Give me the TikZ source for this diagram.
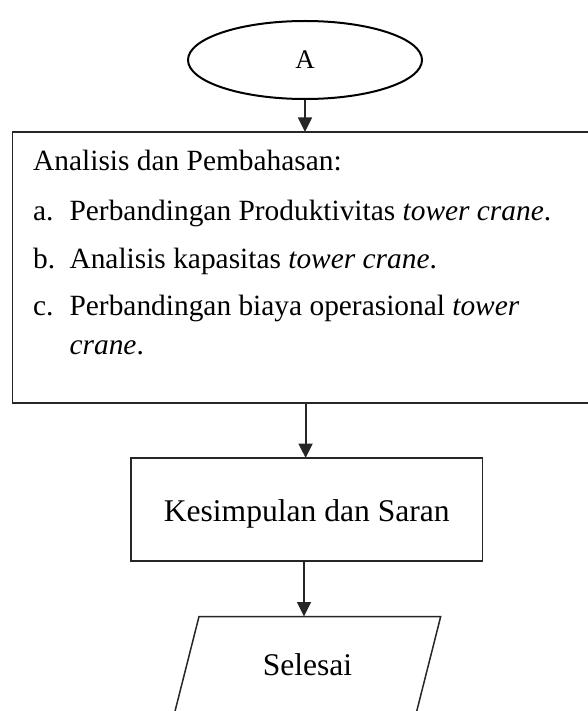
\documentclass[tikz,border=0pt]{standalone}
\usepackage{fontspec}
\setmainfont{Liberation Serif}
\usetikzlibrary{arrows.meta,shapes.geometric}
\begin{document}
\begin{tikzpicture}[x=1bp,y=-1bp,
  line/.style={draw=black!85, line width=1.5bp},
  arr/.style={black!85, line width=1.8bp, -{Triangle[length=14.5bp,width=14bp]}},
  listtext/.style={anchor=base west, inner sep=0, font=\fontsize{29.5}{35}\selectfont},
  boxtext/.style={font=\fontsize{31.7}{38}\selectfont}]
\clip (0,0) rectangle (588,711);
\useasboundingbox (0,0) rectangle (588,711);
\fill[white] (0,0) rectangle (588,711);
% start terminator
\node[ellipse, draw=black, line width=2bp, minimum width=234bp, minimum height=78bp, inner sep=0,
      font=\fontsize{27}{30}\selectfont] (A) at (305,60) {A};
% analysis box
\node[line, rectangle, minimum width=600bp, minimum height=271bp, inner sep=0, outer sep=0] (big) at (312.4,267.5) {};
\node[listtext] (l0) at (33,170.7) {Analisis dan Pembahasan:};
\node[listtext] (l1) at (33,220.7) {\makebox[36.4bp][l]{a.}Perbandingan Produktivitas \textit{tower crane}.};
\node[listtext] (l2) at (33,268.3) {\makebox[36.4bp][l]{b.}Analisis kapasitas \textit{tower crane}.};
\node[listtext] (l3) at (33,315.7) {\makebox[36.4bp][l]{c.}Perbandingan biaya operasional \textit{tower}};
\node[listtext] (l4) at (69.4,354) {\textit{crane}.};
% conclusion box
\node[line, rectangle, boxtext, minimum width=351.6bp, minimum height=103bp, inner sep=0, outer sep=0,
      text height=30bp, text depth=7bp] (kes) at (306.8,509.5) {Kesimpulan dan Saran};
% end parallelogram
\coordinate (ptl) at (199,616.5);
\coordinate (ptr) at (440.7,616.5);
\coordinate (pbr) at (416,714);
\coordinate (pbl) at (174.3,714);
\draw[line] (pbl) -- (ptl) -- (ptr) -- (pbr) -- cycle;
\node[boxtext, anchor=base, inner sep=0] (sel) at (307.5,675) {Selesai};
\coordinate (ptop) at (304,616.5);
% connectors
\draw[arr] (A.south) -- (A.south |- big.north);
\draw[arr] (305.6,403) coordinate (bs) -- (bs |- kes.north);
\draw[arr] (kes.south -| ptop) -- (ptop);
\end{tikzpicture}
\end{document}
